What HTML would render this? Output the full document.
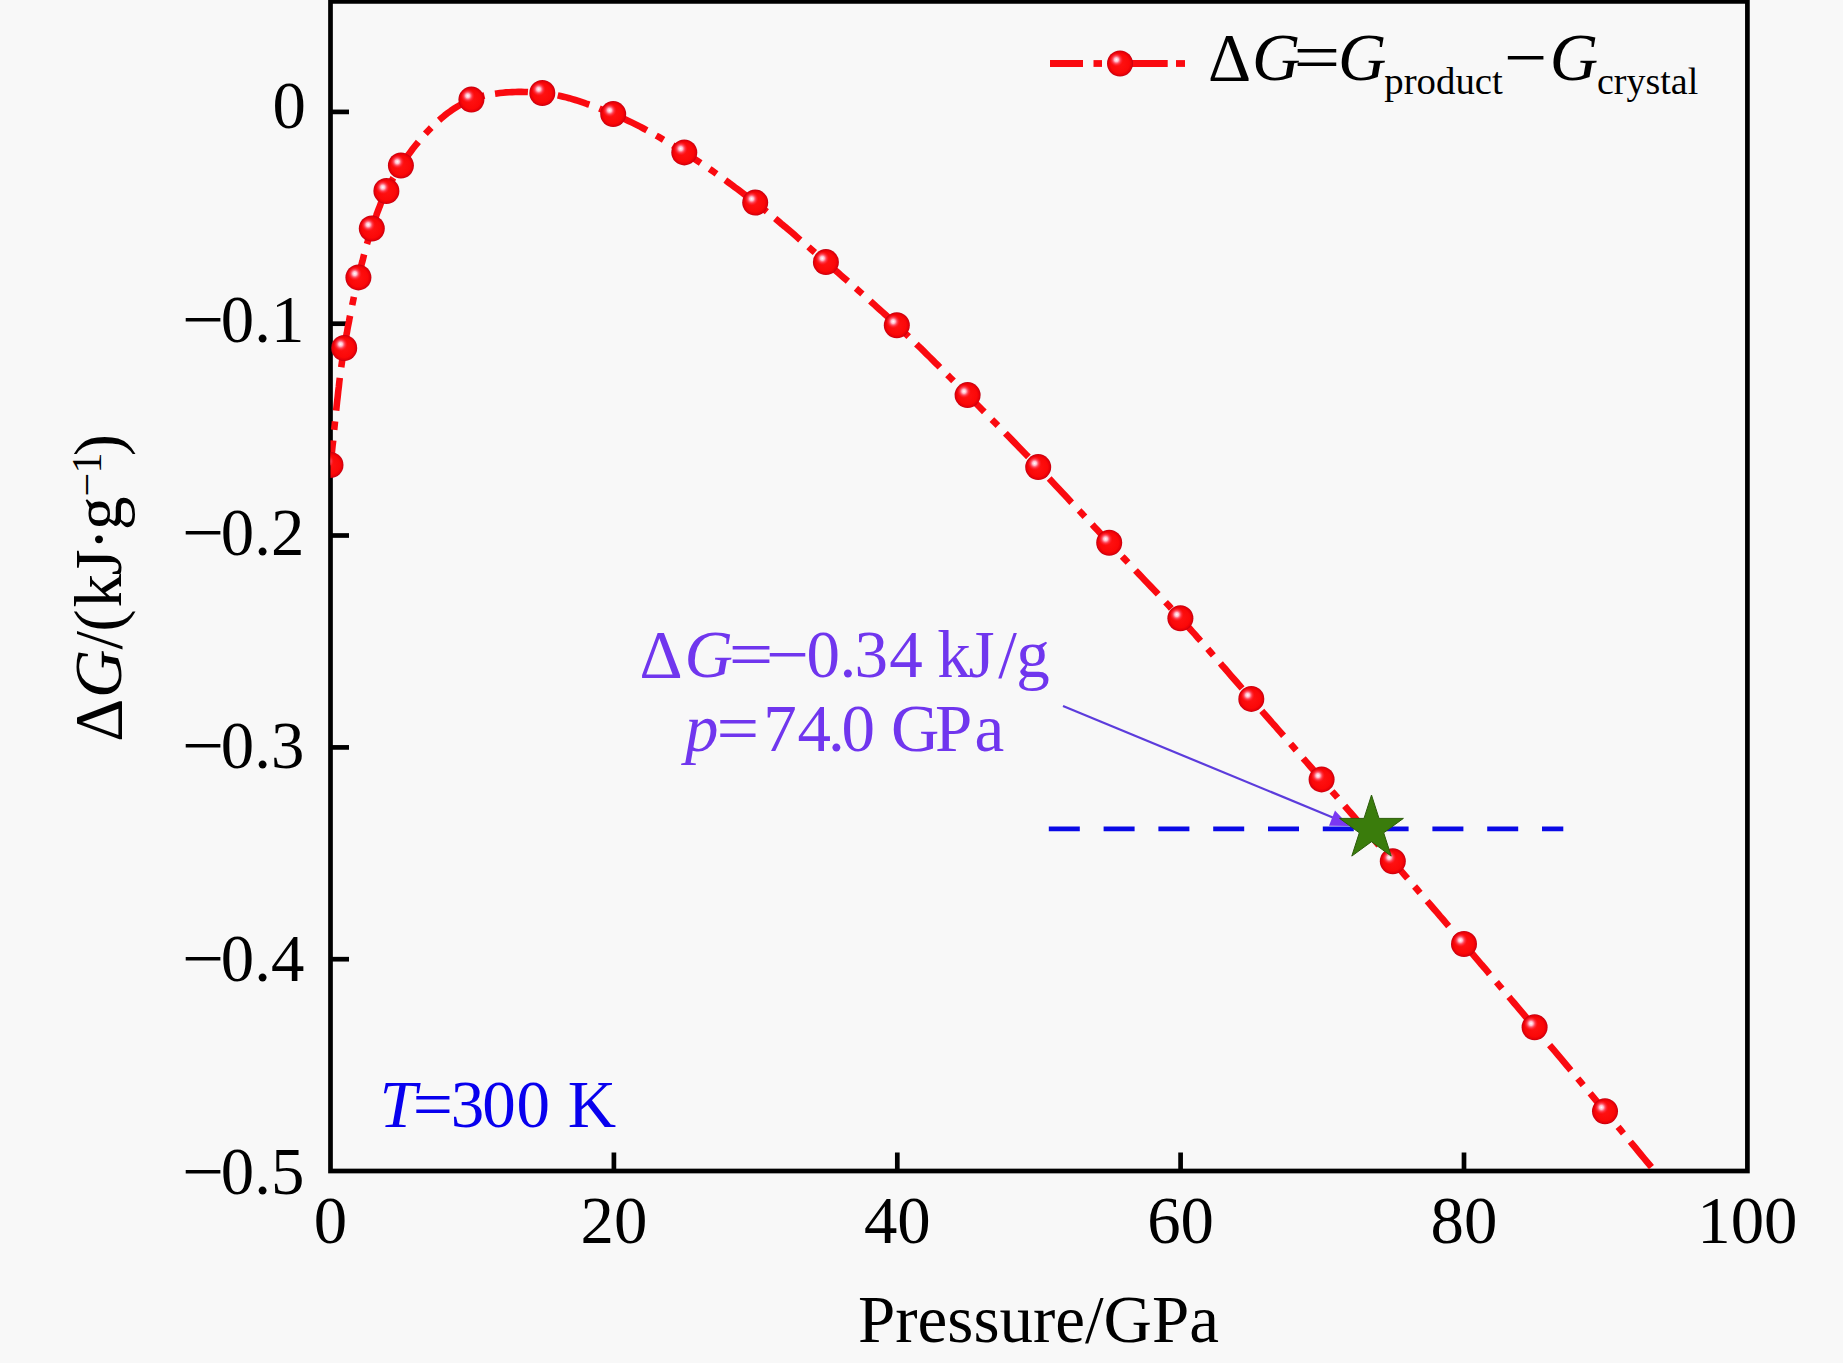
<!DOCTYPE html>
<html lang="en"><head><meta charset="utf-8"><title>Gibbs free energy vs pressure</title>
<style>
html,body{margin:0;padding:0;background:#f8f8f8;}
body{width:1843px;height:1363px;overflow:hidden;}
svg{display:block;}
text{font-family:"Liberation Serif","Times New Roman",serif;}
.it{font-style:italic;}
</style></head><body>
<svg width="1843" height="1363" viewBox="0 0 1843 1363">
<defs>
<radialGradient id="body" cx="0.5" cy="0.5" r="0.5">
<stop offset="0" stop-color="#ff1212"/>
<stop offset="0.72" stop-color="#fb0808"/>
<stop offset="0.9" stop-color="#e60008"/>
<stop offset="1" stop-color="#c00010"/>
</radialGradient>
<radialGradient id="hl" cx="0.5" cy="0.5" r="0.5">
<stop offset="0" stop-color="#fff" stop-opacity="1"/>
<stop offset="0.3" stop-color="#ffd0e0" stop-opacity="0.9"/>
<stop offset="0.65" stop-color="#ff6080" stop-opacity="0.45"/>
<stop offset="1" stop-color="#ff2030" stop-opacity="0"/>
</radialGradient>
<g id="m"><circle r="13" fill="url(#body)"/><circle cx="-3.6" cy="-3.8" r="7" fill="url(#hl)"/></g>
<clipPath id="plot"><rect x="330.5" y="1.4" width="1416.9" height="1169.6"/></clipPath>
</defs>
<rect x="0" y="0" width="1843" height="1363" fill="#f8f8f8"/>
<g stroke="#000" stroke-width="4.7" fill="none" stroke-linecap="butt">
<rect x="330.5" y="1.4" width="1416.9" height="1169.6"/>
<line x1="330.5" y1="111.9" x2="349.0" y2="111.9"/>
<line x1="330.5" y1="323.7" x2="349.0" y2="323.7"/>
<line x1="330.5" y1="535.5" x2="349.0" y2="535.5"/>
<line x1="330.5" y1="747.4" x2="349.0" y2="747.4"/>
<line x1="330.5" y1="959.2" x2="349.0" y2="959.2"/>
<line x1="613.9" y1="1171.0" x2="613.9" y2="1152.5"/>
<line x1="897.3" y1="1171.0" x2="897.3" y2="1152.5"/>
<line x1="1180.6" y1="1171.0" x2="1180.6" y2="1152.5"/>
<line x1="1464.0" y1="1171.0" x2="1464.0" y2="1152.5"/>
</g>
<g font-size="66.8" fill="#000">
<text x="306.0" y="128.4" text-anchor="end">0</text>
<text x="304.3" y="341.6" text-anchor="end">0.1</text>
<text x="182.3" y="341.6" textLength="42" lengthAdjust="spacingAndGlyphs">−</text>
<text x="304.3" y="554.8" text-anchor="end">0.2</text>
<text x="182.3" y="554.8" textLength="42" lengthAdjust="spacingAndGlyphs">−</text>
<text x="304.3" y="768.0" text-anchor="end">0.3</text>
<text x="182.3" y="768.0" textLength="42" lengthAdjust="spacingAndGlyphs">−</text>
<text x="304.3" y="981.2" text-anchor="end">0.4</text>
<text x="182.3" y="981.2" textLength="42" lengthAdjust="spacingAndGlyphs">−</text>
<text x="304.3" y="1194.4" text-anchor="end">0.5</text>
<text x="182.3" y="1194.4" textLength="42" lengthAdjust="spacingAndGlyphs">−</text>
<text x="330.5" y="1243" text-anchor="middle">0</text>
<text x="613.9" y="1243" text-anchor="middle">20</text>
<text x="897.3" y="1243" text-anchor="middle">40</text>
<text x="1180.6" y="1243" text-anchor="middle">60</text>
<text x="1464.0" y="1243" text-anchor="middle">80</text>
<text x="1747.4" y="1243" text-anchor="middle">100</text>
<text x="858" y="1341.7" font-size="67" textLength="361" lengthAdjust="spacing">Pressure/GPa</text>
<text transform="translate(121.3,0) rotate(-90)" font-size="67"><tspan x="-741.7" y="0" font-size="67">Δ</tspan><tspan x="-697.9" y="0" font-size="67" class="it">G</tspan><tspan x="-649.6" y="0" font-size="67">/</tspan><tspan x="-631.8" y="0" font-size="67">(</tspan><tspan x="-607.4" y="0" font-size="67">k</tspan><tspan x="-575.5" y="0" font-size="67">J</tspan><tspan x="-550.5" y="0" font-size="67">·</tspan><tspan x="-529.9" y="0" font-size="67">g</tspan><tspan x="-496.6" y="-20.8" font-size="42">−</tspan><tspan x="-473.4" y="-20.8" font-size="42">1</tspan><tspan x="-456.3" y="0" font-size="67">)</tspan></text>
</g>
<line x1="1048.8" y1="828.9" x2="1563.3" y2="828.9" stroke="#0a0ae6" stroke-width="4.7" stroke-dasharray="31 23.8"/>
<g clip-path="url(#plot)">
<path d="M330.5 465.0 L331.1 460.1 L331.6 455.2 L332.1 450.4 L332.6 445.5 L333.2 440.6 L333.6 435.7 L334.1 430.8 L334.6 425.9 L335.1 421.0 L335.6 416.2 L336.1 411.3 L336.6 406.4 L337.1 401.5 L337.7 396.6 L338.2 391.7 L338.8 386.9 L339.3 382.0 L339.9 377.1 L340.6 372.3 L341.2 367.4 L341.9 362.5 L342.6 357.7 L343.4 352.8 L344.2 348.0 L344.7 345.0 L345.2 342.1 L345.7 339.1 L346.2 336.2 L346.8 333.2 L347.3 330.3 L347.8 327.3 L348.4 324.4 L349.0 321.4 L349.5 318.5 L350.1 315.5 L350.7 312.6 L351.3 309.6 L351.9 306.7 L352.5 303.7 L353.1 300.8 L353.7 297.9 L354.3 294.9 L355.0 292.0 L355.7 289.1 L356.3 286.2 L357.0 283.2 L357.7 280.3 L358.4 277.4 L358.9 275.3 L359.4 273.3 L359.9 271.2 L360.4 269.2 L360.9 267.1 L361.4 265.1 L361.9 263.0 L362.5 261.0 L363.0 258.9 L363.5 256.9 L364.0 254.8 L364.6 252.8 L365.1 250.8 L365.7 248.7 L366.2 246.7 L366.8 244.6 L367.4 242.6 L368.0 240.6 L368.6 238.6 L369.2 236.5 L369.8 234.5 L370.5 232.5 L371.1 230.5 L371.8 228.5 L372.3 226.9 L372.9 225.3 L373.4 223.7 L374.0 222.1 L374.5 220.6 L375.1 219.0 L375.6 217.4 L376.2 215.8 L376.7 214.2 L377.3 212.6 L377.9 211.1 L378.5 209.5 L379.1 207.9 L379.7 206.4 L380.3 204.8 L380.9 203.2 L381.6 201.7 L382.2 200.1 L382.9 198.6 L383.6 197.1 L384.3 195.5 L385.0 194.0 L385.7 192.5 L386.4 191.0 L386.9 189.9 L387.5 188.8 L388.0 187.7 L388.6 186.6 L389.2 185.5 L389.7 184.5 L390.3 183.4 L390.9 182.3 L391.5 181.2 L392.0 180.1 L392.6 179.1 L393.2 178.0 L393.9 176.9 L394.5 175.9 L395.1 174.8 L395.7 173.8 L396.3 172.7 L397.0 171.7 L397.6 170.6 L398.3 169.6 L398.9 168.6 L399.6 167.5 L400.2 166.5 L400.9 165.5 L403.1 162.2 L405.5 158.8 L407.8 155.5 L410.3 152.2 L412.8 148.8 L415.4 145.5 L418.0 142.3 L420.7 139.1 L423.5 135.9 L426.3 132.8 L429.2 129.7 L432.1 126.7 L435.1 123.8 L438.2 121.0 L441.3 118.3 L444.4 115.7 L447.6 113.2 L450.9 110.8 L454.2 108.6 L457.5 106.5 L460.9 104.5 L464.4 102.7 L467.9 101.1 L471.4 99.6 L474.0 98.6 L476.8 97.7 L479.5 96.9 L482.3 96.1 L485.2 95.4 L488.1 94.8 L491.0 94.3 L493.9 93.8 L496.9 93.4 L499.9 93.0 L503.0 92.7 L506.0 92.4 L509.1 92.2 L512.1 92.1 L515.2 92.0 L518.3 91.9 L521.3 91.9 L524.4 92.0 L527.4 92.0 L530.4 92.2 L533.5 92.3 L536.4 92.5 L539.4 92.7 L542.3 93.0 L545.3 93.3 L548.3 93.7 L551.3 94.2 L554.3 94.7 L557.3 95.3 L560.4 96.0 L563.4 96.7 L566.3 97.4 L569.3 98.2 L572.3 99.1 L575.3 100.0 L578.3 100.9 L581.2 101.9 L584.2 102.9 L587.1 104.0 L590.1 105.0 L593.0 106.1 L595.9 107.2 L598.8 108.3 L601.7 109.5 L604.6 110.6 L607.5 111.8 L610.4 112.9 L613.2 114.1 L616.3 115.4 L619.4 116.7 L622.4 118.1 L625.5 119.5 L628.5 120.9 L631.6 122.4 L634.6 123.9 L637.6 125.4 L640.6 126.9 L643.5 128.5 L646.5 130.1 L649.5 131.8 L652.4 133.4 L655.4 135.1 L658.3 136.7 L661.2 138.4 L664.1 140.2 L667.0 141.9 L669.9 143.6 L672.8 145.4 L675.7 147.1 L678.6 148.9 L681.4 150.6 L684.3 152.4 L687.4 154.3 L690.4 156.2 L693.5 158.2 L696.5 160.2 L699.5 162.2 L702.5 164.2 L705.5 166.2 L708.5 168.2 L711.5 170.3 L714.5 172.4 L717.4 174.5 L720.4 176.6 L723.3 178.7 L726.3 180.8 L729.2 183.0 L732.1 185.1 L735.0 187.3 L737.9 189.4 L740.8 191.6 L743.7 193.8 L746.6 196.0 L749.5 198.2 L752.3 200.4 L755.2 202.6 L758.2 205.0 L761.3 207.3 L764.3 209.7 L767.3 212.1 L770.3 214.6 L773.3 217.0 L776.2 219.4 L779.2 221.9 L782.1 224.4 L785.1 226.8 L788.0 229.3 L791.0 231.8 L793.9 234.3 L796.8 236.9 L799.7 239.4 L802.6 241.9 L805.5 244.4 L808.5 246.9 L811.4 249.5 L814.3 252.0 L817.2 254.5 L820.1 257.1 L823.0 259.6 L825.9 262.1 L828.9 264.7 L831.9 267.3 L834.9 269.9 L837.9 272.5 L840.8 275.1 L843.8 277.7 L846.8 280.3 L849.8 282.9 L852.8 285.5 L855.7 288.1 L858.7 290.7 L861.7 293.4 L864.6 296.0 L867.6 298.6 L870.5 301.3 L873.5 303.9 L876.4 306.6 L879.3 309.2 L882.3 311.9 L885.2 314.5 L888.1 317.2 L891.0 319.9 L893.9 322.6 L896.8 325.3 L899.8 328.1 L902.8 331.0 L905.8 333.8 L908.8 336.7 L911.8 339.6 L914.8 342.5 L917.7 345.4 L920.7 348.2 L923.7 351.2 L926.6 354.1 L929.6 357.0 L932.5 359.9 L935.4 362.8 L938.4 365.7 L941.3 368.7 L944.2 371.6 L947.1 374.5 L950.1 377.5 L953.0 380.4 L955.9 383.4 L958.8 386.3 L961.8 389.2 L964.7 392.2 L967.6 395.1 L970.6 398.1 L973.5 401.1 L976.5 404.0 L979.5 407.0 L982.4 410.0 L985.4 413.0 L988.3 416.0 L991.3 419.0 L994.2 421.9 L997.2 424.9 L1000.1 427.9 L1003.1 430.9 L1006.0 433.9 L1009.0 436.9 L1011.9 439.9 L1014.8 442.9 L1017.8 446.0 L1020.7 449.0 L1023.6 452.0 L1026.5 455.0 L1029.5 458.0 L1032.4 461.0 L1035.3 464.1 L1038.2 467.1 L1041.2 470.2 L1044.2 473.3 L1047.2 476.5 L1050.1 479.6 L1053.1 482.7 L1056.1 485.9 L1059.0 489.0 L1062.0 492.2 L1064.9 495.3 L1067.9 498.5 L1070.8 501.7 L1073.8 504.8 L1076.7 508.0 L1079.7 511.1 L1082.6 514.3 L1085.6 517.4 L1088.5 520.6 L1091.5 523.8 L1094.4 526.9 L1097.4 530.1 L1100.3 533.2 L1103.3 536.4 L1106.2 539.6 L1109.2 542.7 L1112.2 545.8 L1115.1 549.0 L1118.1 552.1 L1121.1 555.3 L1124.1 558.4 L1127.1 561.6 L1130.0 564.7 L1133.0 567.8 L1136.0 571.0 L1139.0 574.1 L1142.0 577.2 L1145.0 580.4 L1147.9 583.5 L1150.9 586.6 L1153.9 589.8 L1156.9 592.9 L1159.8 596.1 L1162.8 599.2 L1165.7 602.4 L1168.7 605.6 L1171.6 608.7 L1174.6 611.9 L1177.5 615.1 L1180.4 618.3 L1183.4 621.6 L1186.4 624.9 L1189.4 628.3 L1192.4 631.6 L1195.4 634.9 L1198.3 638.3 L1201.3 641.6 L1204.2 645.0 L1207.2 648.3 L1210.2 651.7 L1213.1 655.1 L1216.0 658.4 L1219.0 661.8 L1221.9 665.2 L1224.9 668.5 L1227.8 671.9 L1230.7 675.3 L1233.7 678.7 L1236.6 682.0 L1239.5 685.4 L1242.5 688.8 L1245.4 692.2 L1248.4 695.5 L1251.3 698.9 L1254.2 702.2 L1257.2 705.6 L1260.1 708.9 L1263.0 712.3 L1266.0 715.7 L1268.9 719.0 L1271.8 722.4 L1274.8 725.7 L1277.7 729.1 L1280.6 732.4 L1283.6 735.8 L1286.5 739.1 L1289.4 742.5 L1292.3 745.8 L1295.3 749.2 L1298.2 752.5 L1301.1 755.9 L1304.0 759.3 L1307.0 762.6 L1309.9 766.0 L1312.8 769.3 L1315.7 772.7 L1318.7 776.0 L1321.6 779.4 L1324.6 782.8 L1327.5 786.2 L1330.5 789.6 L1333.5 793.0 L1336.5 796.4 L1339.4 799.9 L1342.4 803.3 L1345.4 806.7 L1348.3 810.1 L1351.3 813.5 L1354.3 816.9 L1357.2 820.3 L1360.2 823.7 L1363.2 827.1 L1366.1 830.6 L1369.1 834.0 L1372.1 837.4 L1375.0 840.8 L1378.0 844.2 L1381.0 847.6 L1383.9 851.0 L1386.9 854.5 L1389.8 857.9 L1392.8 861.3 L1395.8 864.7 L1398.7 868.2 L1401.7 871.6 L1404.7 875.1 L1407.7 878.5 L1410.6 881.9 L1413.6 885.4 L1416.6 888.8 L1419.6 892.3 L1422.5 895.7 L1425.5 899.1 L1428.5 902.6 L1431.4 906.0 L1434.4 909.5 L1437.4 912.9 L1440.3 916.4 L1443.3 919.8 L1446.3 923.3 L1449.2 926.7 L1452.2 930.2 L1455.1 933.6 L1458.1 937.1 L1461.0 940.5 L1464.0 944.0 L1467.0 947.5 L1469.9 950.9 L1472.9 954.4 L1475.8 957.8 L1478.8 961.3 L1481.7 964.8 L1484.7 968.2 L1487.6 971.7 L1490.5 975.2 L1493.5 978.7 L1496.4 982.1 L1499.4 985.6 L1502.3 989.1 L1505.2 992.5 L1508.2 996.0 L1511.1 999.5 L1514.1 1003.0 L1517.0 1006.4 L1519.9 1009.9 L1522.9 1013.4 L1525.8 1016.9 L1528.7 1020.3 L1531.7 1023.8 L1534.6 1027.3 L1537.5 1030.8 L1540.5 1034.3 L1543.4 1037.8 L1546.4 1041.3 L1549.3 1044.7 L1552.2 1048.2 L1555.2 1051.7 L1558.1 1055.2 L1561.1 1058.7 L1564.0 1062.2 L1566.9 1065.7 L1569.9 1069.2 L1572.8 1072.7 L1575.7 1076.2 L1578.7 1079.7 L1581.6 1083.2 L1584.5 1086.7 L1587.4 1090.2 L1590.4 1093.7 L1593.3 1097.2 L1596.2 1100.7 L1599.2 1104.2 L1602.1 1107.7 L1605.0 1111.2 L1608.0 1114.8 L1611.0 1118.4 L1614.0 1122.0 L1617.0 1125.6 L1620.0 1129.2 L1622.9 1132.8 L1625.9 1136.4 L1628.9 1140.0 L1631.9 1143.6 L1634.9 1147.2 L1637.9 1150.8 L1640.8 1154.4 L1643.8 1158.0 L1646.8 1161.6 L1649.8 1165.2 L1652.8 1168.8 L1655.7 1172.4 L1658.7 1176.0 L1661.7 1179.6 L1664.7 1183.2 L1667.7 1186.8 L1670.6 1190.4 L1673.6 1194.0 L1676.6 1197.6" fill="none" stroke="#fa0a10" stroke-width="6.6" stroke-dasharray="33 10.75 8.5 10.75" stroke-dashoffset="8.4" stroke-linejoin="round"/>
<use href="#m" x="330.5" y="465.0"/>
<use href="#m" x="344.2" y="348.0"/>
<use href="#m" x="358.4" y="277.4"/>
<use href="#m" x="371.8" y="228.5"/>
<use href="#m" x="386.4" y="191.0"/>
<use href="#m" x="400.9" y="165.5"/>
<use href="#m" x="471.4" y="99.6"/>
<use href="#m" x="542.3" y="93.0"/>
<use href="#m" x="613.2" y="114.1"/>
<use href="#m" x="684.3" y="152.4"/>
<use href="#m" x="755.2" y="202.6"/>
<use href="#m" x="825.9" y="262.1"/>
<use href="#m" x="896.8" y="325.3"/>
<use href="#m" x="967.6" y="395.1"/>
<use href="#m" x="1038.2" y="467.1"/>
<use href="#m" x="1109.2" y="542.7"/>
<use href="#m" x="1180.4" y="618.3"/>
<use href="#m" x="1251.3" y="698.9"/>
<use href="#m" x="1321.6" y="779.4"/>
<use href="#m" x="1392.8" y="861.3"/>
<use href="#m" x="1464.0" y="944.0"/>
<use href="#m" x="1534.6" y="1027.3"/>
<use href="#m" x="1605.0" y="1111.2"/>
</g>
<line x1="1063" y1="706" x2="1334" y2="818" stroke="#5c3cdc" stroke-width="2.2"/>
<polygon points="1349.5,826 1329,825.8 1335,810.5" fill="#7a38f2"/>
<polygon points="1371.5,795.0 1379.0,818.4 1403.4,818.4 1383.7,832.8 1391.2,856.1 1371.5,841.7 1351.8,856.1 1359.3,832.8 1339.6,818.4 1364.0,818.4" fill="#3a7c0c" stroke="#2c5c0a" stroke-width="1"/>
<text y="677" font-size="67" fill="#7036ee" ><tspan x="639.4" y="677">Δ</tspan><tspan x="684.6" class="it" y="677">G</tspan><tspan x="728.7" y="677" textLength="44.5" lengthAdjust="spacingAndGlyphs">=</tspan><tspan x="766.2" y="677" textLength="43" lengthAdjust="spacingAndGlyphs">−</tspan><tspan x="806.4" y="677">0</tspan><tspan x="839.5" y="677">.</tspan><tspan x="854.5" y="677">3</tspan><tspan x="889.3" y="677">4</tspan><tspan x="937.2" y="677">k</tspan><tspan x="968.6" y="677">J</tspan><tspan x="998.3" y="677">/</tspan><tspan x="1016.3" y="677">g</tspan></text>
<text y="751" font-size="67" fill="#7036ee" ><tspan x="685" class="it" y="751">p</tspan><tspan x="716.4" y="751" textLength="42.7" lengthAdjust="spacingAndGlyphs">=</tspan><tspan x="763.2" y="751">7</tspan><tspan x="797.4" y="751">4</tspan><tspan x="828" y="751">.</tspan><tspan x="841.4" y="751">0</tspan><tspan x="891" y="751">G</tspan><tspan x="935" y="751">P</tspan><tspan x="974.6" y="751">a</tspan></text>
<text y="1127.4" font-size="67" fill="#0800ee" ><tspan x="379.6" class="it" y="1127.4">T</tspan><tspan x="412.7" y="1127.4" textLength="40.2" lengthAdjust="spacingAndGlyphs">=</tspan><tspan x="450.8" y="1127.4">3</tspan><tspan x="482.2" y="1127.4">0</tspan><tspan x="516.4" y="1127.4">0</tspan><tspan x="567.7" y="1127.4">K</tspan></text>
<g stroke="#fa0a10" stroke-width="6.8">
<line x1="1050" y1="63.5" x2="1083" y2="63.5"/><line x1="1093.5" y1="63.5" x2="1102" y2="63.5"/><line x1="1112" y1="63.5" x2="1167.7" y2="63.5"/><line x1="1176" y1="63.5" x2="1185" y2="63.5"/>
</g>
<use href="#m" x="1120" y="63.5"/>
<text y="80" font-size="67" fill="#000" ><tspan x="1207.9" y="80">Δ</tspan><tspan x="1252" class="it" y="80">G</tspan><tspan x="1293.6" y="80" textLength="46.8" lengthAdjust="spacingAndGlyphs">=</tspan><tspan x="1338" class="it" y="80">G</tspan><tspan x="1384.3" font-size="38.8" y="94.1">product</tspan><tspan x="1504.2" y="80" textLength="43.2" lengthAdjust="spacingAndGlyphs">−</tspan><tspan x="1549.7" class="it" y="80">G</tspan><tspan x="1597" font-size="38" y="94.1">crystal</tspan></text>
</svg></body></html>
